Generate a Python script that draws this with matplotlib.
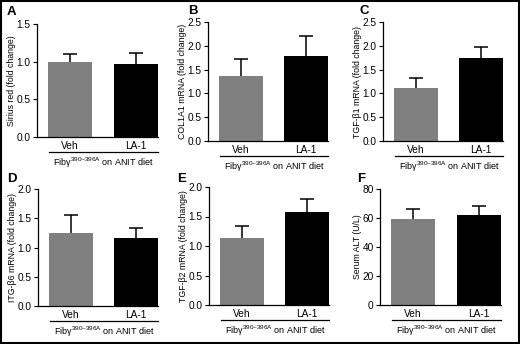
import matplotlib
matplotlib.use("Agg")
import matplotlib.pyplot as plt
from matplotlib.patches import Rectangle
from matplotlib.lines import Line2D

plt.rcParams['font.family'] = ['Liberation Sans', 'DejaVu Sans']
plt.rcParams['mathtext.fontset'] = 'custom'
plt.rcParams['mathtext.rm'] = 'Liberation Sans'
plt.rcParams['mathtext.it'] = 'Liberation Sans'

# data
groups = ["Veh", "LA-1"]
letters = ["A", "B", "C", "D", "E", "F"]
ylabels = ["Sirius red (fold change)", "COL1A1 mRNA (fold change)",
           "TGF-\u03b21 mRNA (fold change)", "ITG-\u03b26 mRNA (fold change)",
           "TGF-\u03b22 mRNA (fold change)", "Serum ALT (U/L)"]
means_A = [1.00, 0.97]
sem_A = [0.10, 0.14]
means_B = [1.36, 1.78]
sem_B = [0.37, 0.42]
means_C = [1.12, 1.75]
sem_C = [0.20, 0.23]
means_D = [1.24, 1.16]
sem_D = [0.32, 0.17]
means_E = [1.13, 1.58]
sem_E = [0.21, 0.22]
means_F = [59.5, 62.0]
sem_F = [6.5, 6.5]
yticks_list = [[0.0, 0.5, 1.0, 1.5], [0.0, 0.5, 1.0, 1.5, 2.0, 2.5],
               [0.0, 0.5, 1.0, 1.5, 2.0, 2.5], [0.0, 0.5, 1.0, 1.5, 2.0],
               [0.0, 0.5, 1.0, 1.5, 2.0], [0, 20, 40, 60, 80]]
all_means = [means_A, means_B, means_C, means_D, means_E, means_F]
all_sems = [sem_A, sem_B, sem_C, sem_D, sem_E, sem_F]
group_label = "Fib$\\gamma^{\\mathrm{390\u2013396A}}$ on ANIT diet"

W, H = 520, 344
fig = plt.figure(figsize=(W / 100, H / 100), dpi=100)

# axes boxes in pixels: left, x-axis y, top y, width
boxes = [(37, 137, 24, 121), (208, 141, 22, 120), (383, 141, 22, 120),
         (38, 306, 189, 120), (209, 305, 187, 120), (380, 305, 189, 121)]
letter_pos = [(7, 12), (188, 11), (360, 11), (7, 179), (177, 179), (357, 179)]

for i in range(6):
    l, yb, yt, w = boxes[i]
    ax = fig.add_axes([l / W, 1 - yb / H, w / W, (yb - yt) / H])
    ax.bar([0, 1], all_means[i], width=0.665, color=["#808080", "black"],
           zorder=2)
    eb = ax.errorbar([0, 1], all_means[i], yerr=[[0, 0], all_sems[i]],
                     fmt='none', ecolor='black', elinewidth=1.1, capsize=5,
                     capthick=1.1, zorder=1)
    # hide the lower caps sitting on the bar tops
    for cl in eb[1]:
        if list(cl.get_ydata()) == list(all_means[i]):
            cl.set_visible(False)
    ax.set_xlim(-0.5, 1.332)
    yt_ = yticks_list[i]
    ax.set_ylim(0, yt_[-1])
    ax.set_yticks(yt_)
    if i == 5:
        ax.set_yticklabels([str(v) for v in yt_])
    else:
        ax.set_yticklabels(["%.1f" % v for v in yt_])
    ax.set_xticks([0, 1])
    ax.set_xticklabels(groups)
    ax.tick_params(axis='x', length=0, pad=3, labelsize=7.3)
    ax.tick_params(axis='y', length=3, width=0.8, pad=1.5, labelsize=7.3)
    for s in ['top', 'right']:
        ax.spines[s].set_visible(False)
    for s in ['left', 'bottom']:
        ax.spines[s].set_linewidth(0.9)
    ax.set_ylabel(ylabels[i], fontsize=6.3, labelpad=0.5)

    # group line and label under the axis
    x0 = (l + 12) / W
    x1 = (l + w) / W
    yl = 1 - (yb + 15) / H
    fig.add_artist(Line2D([x0, x1], [yl, yl], color='black', lw=0.9))
    fig.text((x0 + x1) / 2, 1 - (yb + 26) / H, group_label, fontsize=6.5,
             ha='center', va='center')
    lx, ly = letter_pos[i]
    fig.text(lx / W, 1 - ly / H, letters[i], fontsize=9.5, fontweight='bold',
             ha='left', va='center')

fig.add_artist(Rectangle((0.002, 0.003), 0.996, 0.994, fill=False,
                         edgecolor='black', lw=1.5, transform=fig.transFigure))

fig.savefig("out.png", dpi=100)
